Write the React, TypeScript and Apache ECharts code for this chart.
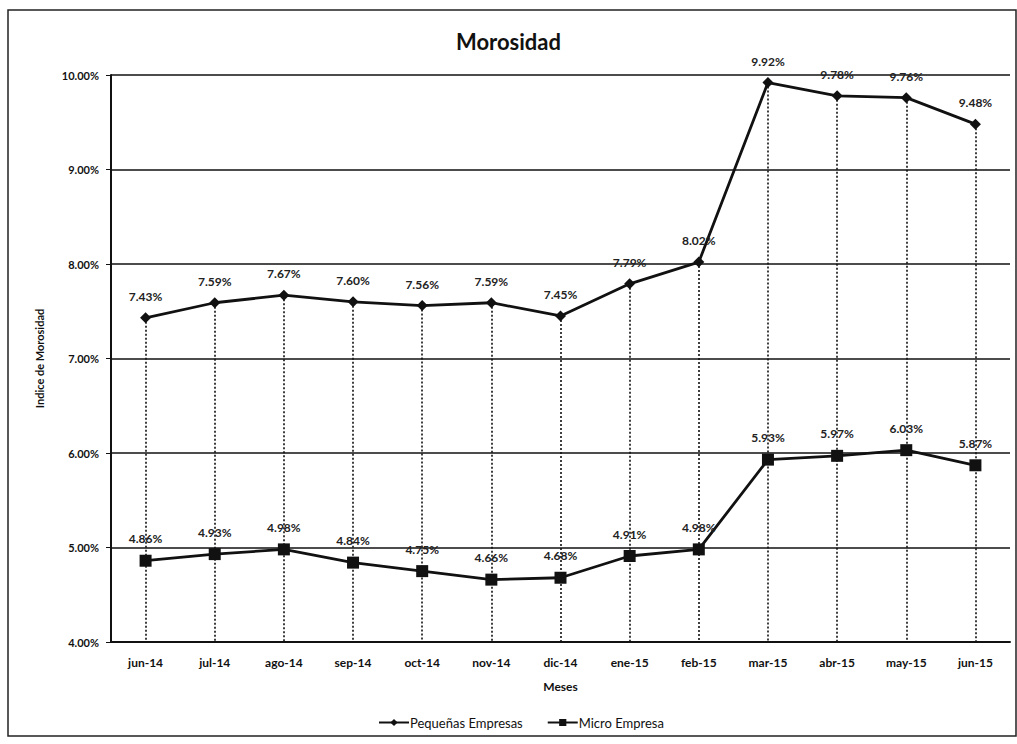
import React, { useEffect, useRef } from "react";
import * as echarts from "echarts";

const categories = ["jun-14", "jul-14", "ago-14", "sep-14", "oct-14", "nov-14", "dic-14", "ene-15", "feb-15", "mar-15", "abr-15", "may-15", "jun-15"];
const pequenas = [7.43, 7.59, 7.67, 7.60, 7.56, 7.59, 7.45, 7.79, 8.02, 9.92, 9.78, 9.76, 9.48];
const micro = [4.86, 4.93, 4.98, 4.84, 4.75, 4.66, 4.68, 4.91, 4.98, 5.93, 5.97, 6.03, 5.87];
const yMin = 4;
const yMax = 10;

const FONT = "Lato, 'Open Sans', sans-serif";

export default function App() {
  const ref = useRef<HTMLDivElement>(null);
  useEffect(() => {
    if (!ref.current) return;
    const chart = echarts.init(ref.current, null, { renderer: "svg" });
    const dropLines = categories.map((c, i) => [
      { coord: [c, Math.max(pequenas[i], micro[i])] },
      { coord: [c, yMin] },
    ]);
    const lbl = {
      show: true,
      position: "top",
      distance: 10,
      fontSize: 12,
      fontWeight: "bold",
      color: "#222",
      formatter: (p: any) => p.value.toFixed(2) + "%",
    };
    chart.setOption({
      animation: false,
      backgroundColor: "#fff",
      textStyle: { fontFamily: FONT },
      title: {
        text: "Morosidad",
        left: "center",
        top: 25,
        textStyle: { fontSize: 22, fontWeight: "bold", color: "#111", fontFamily: FONT },
      },
      graphic: [
        {
          type: "rect",
          shape: { x: 8, y: 10, width: 1008, height: 726 },
          style: { fill: "none", stroke: "#222", lineWidth: 1.5 },
          silent: true,
        },
      ],
      legend: {
        bottom: 10,
        left: 373,
        itemWidth: 30,
        itemHeight: 9,
        itemGap: 24,
        textStyle: { fontSize: 13, color: "#111", fontFamily: FONT, padding: [0, 0, 0, -4] },
        data: ["Pequeñas Empresas", "Micro Empresa"],
      },
      grid: { left: 111, right: 7, top: 75, bottom: 102 },
      xAxis: {
        type: "category",
        data: categories,
        name: "Meses",
        nameLocation: "middle",
        nameGap: 38,
        nameTextStyle: { fontSize: 12, fontWeight: "bold", color: "#111" },
        axisLine: { lineStyle: { color: "#111", width: 2 } },
        axisTick: { show: false },
        axisLabel: { fontSize: 12, fontWeight: "bold", color: "#111", margin: 14 },
      },
      yAxis: {
        type: "value",
        min: yMin,
        max: yMax,
        interval: 1,
        name: "Indice de Morosidad",
        nameLocation: "middle",
        nameGap: 66,
        nameTextStyle: { fontSize: 11, fontWeight: "bold", color: "#111" },
        axisLine: { show: true, lineStyle: { color: "#111", width: 2 } },
        axisTick: { show: true, length: 5, lineStyle: { color: "#111" } },
        axisLabel: {
          fontSize: 11,
          fontWeight: "bold",
          color: "#111",
          margin: 12,
          formatter: (v: number) => v.toFixed(2) + "%",
        },
        splitLine: { show: true, lineStyle: { color: "#111", width: 1.6 } },
      },
      series: [
        {
          name: "Pequeñas Empresas",
          type: "line",
          data: pequenas,
          symbol: "diamond",
          symbolSize: 11,
          itemStyle: { color: "#111" },
          lineStyle: { color: "#111", width: 2.8 },
          label: lbl,
          markLine: {
            silent: true,
            symbol: "none",
            label: { show: false },
            lineStyle: { color: "#111", type: [2, 2], width: 1.6 },
            data: dropLines,
            z: 1,
          },
          z: 3,
        },
        {
          name: "Micro Empresa",
          type: "line",
          data: micro,
          symbol: "rect",
          symbolSize: 12,
          itemStyle: { color: "#111" },
          lineStyle: { color: "#111", width: 2.8 },
          label: lbl,
          z: 3,
        },
      ],
    });
    return () => chart.dispose();
  }, []);
  return <div ref={ref} style={{ width: 1017, height: 744, position: "absolute", left: 0, top: 0 }} />;
}
